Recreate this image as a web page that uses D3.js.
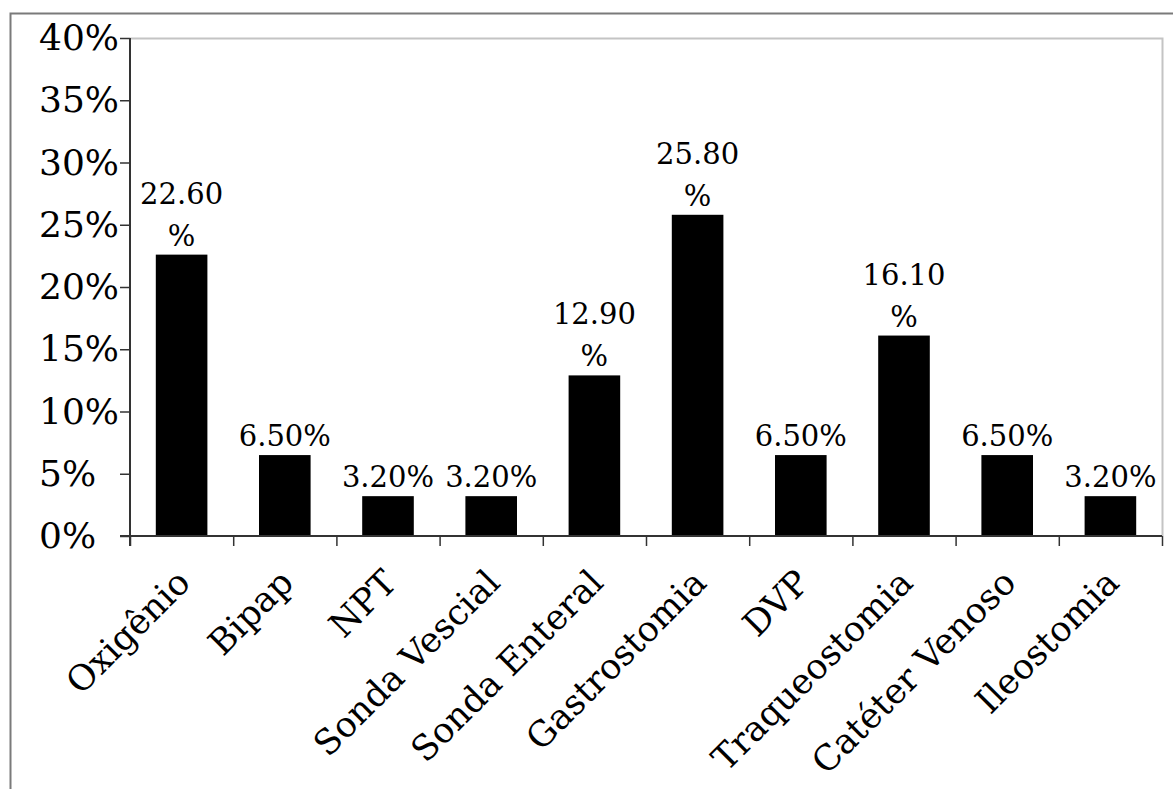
<!DOCTYPE html>
<html>
<head>
<meta charset="utf-8">
<script src="https://cdnjs.cloudflare.com/ajax/libs/d3/7.8.5/d3.min.js"></script>
<style>
  html, body { margin: 0; padding: 0; background: #ffffff; }
  svg { display: block; }
  text { font-family: "DejaVu Serif", "Liberation Serif", "Times New Roman", serif; fill: #000; }
</style>
</head>
<body>
<div id="chart"></div>
<script>
// Device / procedure categories and their share of patients
const categories = ["Oxigênio", "Bipap", "NPT", "Sonda Vescial", "Sonda Enteral",
                    "Gastrostomia", "DVP", "Traqueostomia", "Catéter Venoso", "Ileostomia"];
const percentValues = [22.6, 6.5, 3.2, 3.2, 12.9, 25.8, 6.5, 16.1, 6.5, 3.2];
const yTickValues = [0, 5, 10, 15, 20, 25, 30, 35, 40];

const W = 1173, H = 789;
const plot = { left: 130, right: 1162, top: 38, bottom: 536 };
const serif = '"DejaVu Serif", "Liberation Serif", serif';

const svg = d3.select("#chart").append("svg")
  .attr("width", W).attr("height", H);

// outer chart frame (runs off the right and bottom edges)
svg.append("path")
  .attr("d", `M10.5,${H + 5} V13.5 H${W + 5}`)
  .attr("fill", "none").attr("stroke", "#7a7a7a").attr("stroke-width", 2);

const x = d3.scaleBand()
  .domain(categories)
  .range([plot.left, plot.right])
  .paddingInner(0.5)
  .paddingOuter(0.25);

// category boundaries for tick marks
const xEdges = d3.scaleLinear().domain([0, categories.length]).range([plot.left, plot.right]);

const y = d3.scaleLinear().domain([0, 40]).range([plot.bottom, plot.top]);

// plot-area border (top and right)
svg.append("path")
  .attr("d", `M${plot.left},${plot.top + 0.5} H${plot.right + 0.5} V${plot.bottom}`)
  .attr("fill", "none").attr("stroke", "#c4c4c4").attr("stroke-width", 2);

// bars
svg.append("g").selectAll("rect")
  .data(percentValues)
  .join("rect")
  .attr("x", (d, i) => x(categories[i]))
  .attr("y", d => y(d))
  .attr("width", x.bandwidth())
  .attr("height", d => y(0) - y(d))
  .attr("fill", "#000");

// y axis (labels share a common left edge)
const yAxis = svg.append("g")
  .attr("transform", `translate(${plot.left},0)`)
  .call(d3.axisLeft(y).tickValues(yTickValues).tickSize(10)
    .tickFormat(d => d + "%"));
yAxis.attr("font-family", serif);
yAxis.select(".domain").attr("stroke", "#333").attr("stroke-width", 2)
  .attr("d", `M0,${plot.top} V${plot.bottom + 10}`);
yAxis.selectAll(".tick line").attr("stroke", "#333").attr("stroke-width", 1.5);
yAxis.selectAll(".tick text")
  .attr("font-size", 36).attr("fill", "#000")
  .attr("text-anchor", "start").attr("x", 39 - plot.left);

// x axis line and tick marks at category boundaries
const xAxis = svg.append("g")
  .attr("transform", `translate(0,${plot.bottom})`)
  .call(d3.axisBottom(xEdges).tickValues(d3.range(categories.length + 1))
    .tickSize(10).tickFormat(""));
xAxis.select(".domain").attr("stroke", "#333").attr("stroke-width", 2)
  .attr("d", `M${plot.left - 10},0 H${plot.right}`);
xAxis.selectAll(".tick line").attr("stroke", "#333").attr("stroke-width", 1.5);

// rotated category labels
svg.append("g").selectAll("text")
  .data(categories)
  .join("text")
  .attr("transform", d => `translate(${x(d) + x.bandwidth() / 2 + 2},${plot.bottom + 40}) rotate(-45)`)
  .attr("text-anchor", "end")
  .attr("dy", "0.35em")
  .attr("font-size", 35)
  .text(d => d);

// value labels above bars, wrapped when wider than a category slot
const labelSize = 29;
const lineGap = 42;
const labels = svg.append("g");
percentValues.forEach((v, i) => {
  const cx = x(categories[i]) + x.bandwidth() / 2;
  const base = y(v) - 9;
  const full = v.toFixed(2) + "%";
  const t = labels.append("text")
    .attr("x", cx).attr("y", base)
    .attr("text-anchor", "middle")
    .attr("font-size", labelSize)
    .text(full);
  if (t.node().getComputedTextLength() > x.step()) {
    t.text("%");
    labels.append("text")
      .attr("x", cx).attr("y", base - lineGap)
      .attr("text-anchor", "middle")
      .attr("font-size", labelSize)
      .text(v.toFixed(2));
  }
});
</script>
</body>
</html>
